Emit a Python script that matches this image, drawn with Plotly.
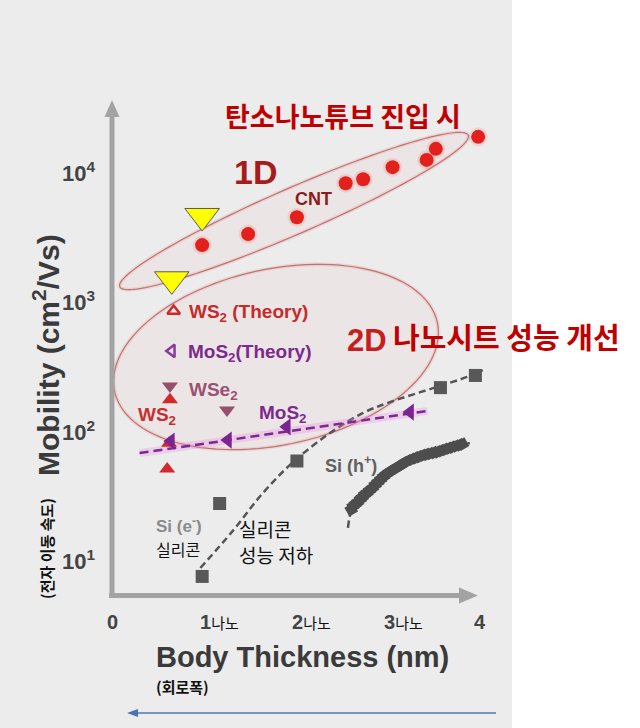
import numpy as np
import plotly.graph_objects as go

W, H = 640, 728

# ---------------- data ----------------
cnt_x = [0.98, 1.48, 2.01, 2.54, 2.73, 3.05, 3.42, 3.52, 3.98]
cnt_y = [2720, 3310, 4470, 8190, 8790, 10900, 12400, 15100, 18700]

pointer_x = [0.98, 0.65]
pointer_y = [4570, 1480]

ws2_theory_x = [0.67]
ws2_theory_y = [841]
mos2_theory_x = [0.65]
mos2_theory_y = [413]

wse2_x = [0.63, 1.25]
wse2_y = [221, 144]
ws2_x = [0.63, 0.62, 0.60]
ws2_y = [173, 80, 50.5]
mos2_x = [0.64, 1.26, 1.90, 3.24]
mos2_y = [83, 84.5, 107, 139]
mos2_fit_x = [0.30, 3.43]
mos2_fit_y = [67, 142]

si_e_x = [0.98, 1.17, 2.01, 3.57, 3.95]
si_e_y = [7.45, 27.3, 58.2, 215, 267]
si_e_fit_x = [0.96, 1.32, 1.64, 1.97, 2.37, 2.73, 3.02, 3.49, 3.86, 4.03]
si_e_fit_y = [8.65, 17.0, 32.9, 57.2, 95.8, 137, 166, 213, 260, 294]

si_h_x = [2.60, 2.62, 2.645, 2.67, 2.70, 2.72, 2.745, 2.77, 2.80, 2.83, 2.86, 2.89,
          2.92, 2.95, 2.98, 3.01, 3.04, 3.08, 3.11, 3.14, 3.18, 3.22, 3.26, 3.30,
          3.34, 3.38, 3.42, 3.46, 3.50, 3.54, 3.58, 3.62, 3.66, 3.70, 3.74, 3.78, 3.81]
si_h_y = [24.5, 26, 27, 28, 29.5, 30.5, 32, 33, 34.5, 36, 38, 40,
          42, 44, 46, 47.5, 49, 51, 52.5, 54, 56.5, 58.5, 60, 61.5,
          63, 64.5, 65.5, 66.5, 67.5, 68.5, 70, 71.5, 73, 74.5, 76, 77.5, 78.5]
si_h_fit_x = [2.565, 2.62, 2.84, 3.13, 3.53, 3.89]
si_h_fit_y = [17.7, 25.6, 36.6, 52.3, 68.3, 80.2]

x_ticks = [0, 1, 2, 3, 4]
x_tick_suffix = ["", "나노", "나노", "나노", ""]
y_tick_exps = [1, 2, 3, 4]

# ---------------- figure ----------------
LAT = "Liberation Sans, Arial, Noto Sans CJK KR"
KOR = "Noto Sans CJK KR, Liberation Sans"

fig = go.Figure()


def P(x, y):
    return x / W, 1 - y / H


def ellipse_path(cx, cy, a, b, ang):
    t = np.linspace(0, 2 * np.pi, 120)
    th = np.radians(ang)
    xs = cx + a * np.cos(t) * np.cos(th) - b * np.sin(t) * np.sin(th)
    ys = cy + a * np.cos(t) * np.sin(th) + b * np.sin(t) * np.cos(th)
    pts = [P(x, y) for x, y in zip(xs, ys)]
    return "M " + " L ".join(f"{px:.5f},{py:.5f}" for px, py in pts) + " Z"


def poly_path(pts):
    pp = [P(x, y) for x, y in pts]
    return "M " + " L ".join(f"{px:.5f},{py:.5f}" for px, py in pp) + " Z"


# background gray panel
x1p, _ = P(512, 0)
fig.add_shape(type="rect", xref="paper", yref="paper", x0=0, x1=x1p, y0=0, y1=1,
              fillcolor="#ececec", line_width=0, layer="below")

# ellipses
e1 = ellipse_path(294, 211, 190, 23, -23.5)
e2 = ellipse_path(276, 357, 165, 88, -12)
for path in (e2, e1):
    fig.add_shape(type="path", path=path, xref="paper", yref="paper",
                  fillcolor="rgba(240,185,185,0.13)", line=dict(color="rgba(230,150,150,0.25)", width=4),
                  layer="below")
    fig.add_shape(type="path", path=path, xref="paper", yref="paper",
                  fillcolor="rgba(0,0,0,0)", line=dict(color="#c07272", width=1.2), layer="below")

# axis arrows
GR = "#a3a3a3"
ax0, ay0 = P(112, 596)
ax1, ay1 = P(112, 114)
fig.add_shape(type="line", xref="paper", yref="paper", x0=ax0, y0=ay0, x1=ax1, y1=ay1,
              line=dict(color=GR, width=5), layer="below")
fig.add_shape(type="path", xref="paper", yref="paper",
              path=poly_path([(104.5, 117), (119.5, 117), (112, 100)]), fillcolor=GR, line_width=0, layer="below")
hx0, hy0 = P(109, 595.5)
hx1, hy1 = P(461, 595.5)
fig.add_shape(type="line", xref="paper", yref="paper", x0=hx0, y0=hy0, x1=hx1, y1=hy1,
              line=dict(color=GR, width=5), layer="below")
fig.add_shape(type="path", xref="paper", yref="paper",
              path=poly_path([(459, 587.5), (459, 603.5), (478, 595.5)]), fillcolor=GR, line_width=0, layer="below")

# blue arrow at bottom
bx0, by0 = P(496, 713)
bx1, by1 = P(134, 713)
fig.add_shape(type="line", xref="paper", yref="paper", x0=bx0, y0=by0, x1=bx1, y1=by1,
              line=dict(color="#5178bb", width=1.5))
fig.add_shape(type="path", xref="paper", yref="paper",
              path=poly_path([(138, 709), (138, 717), (127, 713)]), fillcolor="#4a72b5", line_width=0)

# fit lines
fig.add_trace(go.Scatter(x=si_e_fit_x, y=si_e_fit_y, mode="lines", line_shape="spline",
                         line=dict(color="#555555", width=2.5, dash="7px,4px")))
fig.add_trace(go.Scatter(x=si_h_fit_x, y=si_h_fit_y, mode="lines", line_shape="spline",
                         line=dict(color="#555555", width=2.5, dash="7px,4px")))
fig.add_trace(go.Scatter(x=mos2_fit_x, y=mos2_fit_y, mode="lines",
                         line=dict(color="rgba(230,130,230,0.28)", width=8)))
fig.add_trace(go.Scatter(x=mos2_fit_x, y=mos2_fit_y, mode="lines",
                         line=dict(color="#7a2a8e", width=2.5, dash="9px,5px")))

# silicon squares
fig.add_trace(go.Scatter(x=si_e_x, y=si_e_y, mode="markers",
                         marker=dict(symbol="square", size=13, color="#585858")))
fig.add_trace(go.Scatter(x=si_h_x, y=si_h_y, mode="markers",
                         marker=dict(symbol="square", size=10, color="#4d4d4d", angle=-30)))

# 2D experimental
fig.add_trace(go.Scatter(x=ws2_x, y=ws2_y, mode="markers",
                         marker=dict(symbol="triangle-up", size=14, color="#d22a2a")))
fig.add_trace(go.Scatter(x=wse2_x, y=wse2_y, mode="markers",
                         marker=dict(symbol="triangle-down", size=14, color="#96506c")))
fig.add_trace(go.Scatter(x=mos2_x, y=mos2_y, mode="markers",
                         marker=dict(symbol="triangle-left", size=15, color="#7a2590")))

# theory
fig.add_trace(go.Scatter(x=ws2_theory_x, y=ws2_theory_y, mode="markers",
                         marker=dict(symbol="triangle-up-open", size=11, color="#cc2a2a", line=dict(width=2.5))))
fig.add_trace(go.Scatter(x=mos2_theory_x, y=mos2_theory_y, mode="markers",
                         marker=dict(symbol="triangle-left-open", size=11, color="#8a3a9c", line=dict(width=2.5))))

# CNT
fig.add_trace(go.Scatter(x=cnt_x, y=cnt_y, mode="markers",
                         marker=dict(symbol="circle", size=19, color="rgba(235,60,50,0.13)")))
fig.add_trace(go.Scatter(x=cnt_x, y=cnt_y, mode="markers",
                         marker=dict(symbol="circle", size=14, color="#e3201b")))

# yellow pointers
fig.add_trace(go.Scatter(x=pointer_x, y=pointer_y, mode="markers",
                         marker=dict(symbol="triangle-down", size=30, color="#ffff00",
                                     line=dict(color="#5a5a5a", width=1))))


def txt(text, x, y, size, color, xanchor="left", angle=0, family=LAT):
    px, py = P(x, y)
    fig.add_annotation(x=px, y=py, xref="paper", yref="paper", text=text, showarrow=False,
                       font=dict(size=size, color=color, family=family), xanchor=xanchor,
                       yanchor="middle", textangle=angle)


RED = "#c00000"
txt("<b>탄소나노튜브 진입 시</b>", 223, 115, 27, RED, family=KOR)
txt("<b>1D</b>", 255, 172, 34, "#a41c1c", xanchor="center")
txt("<b>CNT</b>", 313, 199, 18, "#8c1c1c", xanchor="center")
txt("<b>2D</b>", 367, 340, 31, "#c41e1e", xanchor="center")
txt("<b>나노시트 성능 개선</b>", 391, 336, 29, RED, family=KOR)
txt("<b>WS<sub>2</sub> (Theory)</b>", 187, 313, 19, "#c52b2b")
txt("<b>MoS<sub>2</sub>(Theory)</b>", 186, 353, 19, "#7b2a8e")
txt("<b>WSe<sub>2</sub></b>", 187, 391, 19, "#9a5272")
txt("<b>WS<sub>2</sub></b>", 136, 416, 19, "#c83030")
txt("<b>MoS<sub>2</sub></b>", 257, 414, 19, "#7b2a8e")
txt("<b>Si (h<sup>+</sup>)</b>", 323, 465, 18, "#606060")
txt("<b>Si (e<sup>-</sup>)</b>", 154, 525, 17, "#8a8a8a")
txt("실리콘", 154, 549, 16, "#111111", family=KOR)
txt("실리콘", 237, 528, 19, "#111111", family=KOR)
txt("성능 저하", 237, 554, 19, "#111111", family=KOR)
txt("<b>Mobility (cm<sup>2</sup>/Vs)</b>", 46, 355, 30, "#3a3a3a", xanchor="center", angle=-90)
txt("<b>(전자 이동 속도)</b>", 46, 549, 15, "#111111", xanchor="center", angle=-90, family=KOR)
txt("<b>Body Thickness (nm)</b>", 302, 657, 29, "#3a3a3a", xanchor="center")
txt("<b>(회로폭)</b>", 154, 686, 15, "#111111", family=KOR)

# tick labels tied to the axis scales
_, ty = P(0, 622)
for v, suf in zip(x_ticks, x_tick_suffix):
    if suf:
        fig.add_annotation(x=v, xref="x", y=ty, yref="paper", showarrow=False,
                           text=f"<b>{v}</b><span style='font-size:15px;color:#111111'>{suf}</span>",
                           font=dict(size=20, color="#444444", family=LAT), xanchor="left", xshift=-6,
                           yanchor="middle")
    else:
        fig.add_annotation(x=v, xref="x", y=ty, yref="paper", showarrow=False, text=f"<b>{v}</b>",
                           font=dict(size=20, color="#444444", family=LAT), xanchor="center",
                           yanchor="middle")
tx, _ = P(97, 0)
for k in y_tick_exps:
    fig.add_annotation(x=tx, xref="paper", y=k, yref="y", showarrow=False,
                       text=f"<b>10<sup>{k}</sup></b>", font=dict(size=22, color="#444444", family=LAT),
                       xanchor="right", yanchor="middle")

fig.update_layout(
    width=W, height=H, margin=dict(l=0, r=0, t=0, b=0),
    paper_bgcolor="white", plot_bgcolor="rgba(0,0,0,0)", showlegend=False, hovermode=False,
    xaxis=dict(range=[(0 - 112) / 92, (W - 112) / 92], visible=False, fixedrange=True),
    yaxis=dict(type="log", range=[4 - (H - 172) / 129.3, 4 + 172 / 129.3], visible=False, fixedrange=True),
)

fig.write_html("out.html", config={"displayModeBar": False},
               post_script="document.body.style.margin='0';")
